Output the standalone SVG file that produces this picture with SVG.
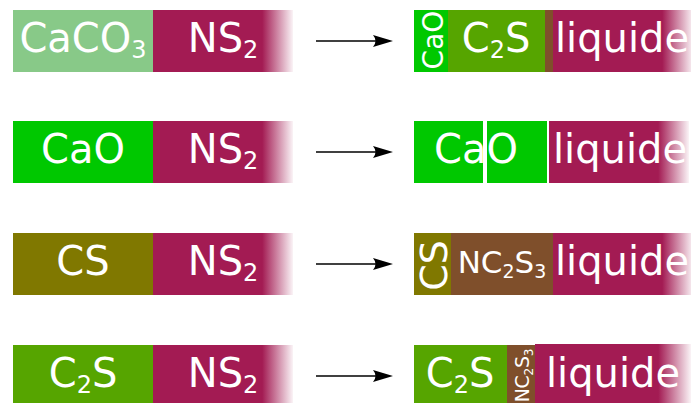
<svg xmlns="http://www.w3.org/2000/svg" width="691" height="403" viewBox="0 0 691 403">
<defs>
<linearGradient id="fadeL" x1="0" y1="0" x2="1" y2="0">
<stop offset="0" stop-color="#a31b53"/>
<stop offset="0.78" stop-color="#a31b53"/>
<stop offset="1" stop-color="#a31b53" stop-opacity="0.05"/>
</linearGradient>
<linearGradient id="fadeR4" x1="0" y1="0" x2="1" y2="0">
<stop offset="0" stop-color="#a31b53"/>
<stop offset="0.79" stop-color="#a31b53"/>
<stop offset="1" stop-color="#a31b53" stop-opacity="0.05"/>
</linearGradient>
<marker id="ah" viewBox="-8 -7 22 14" markerWidth="22" markerHeight="14" refX="0" refY="0" orient="auto" markerUnits="userSpaceOnUse">
<path d="M13,0 L-7,-6 Q-2,0 -7,6 Z" fill="#000"/>
</marker>
<style>
text{font-family:"DejaVu Sans","Liberation Sans",sans-serif;fill:#fff;text-anchor:middle}
.t{font-size:40px}
.s{font-size:24px}
.lg{fill:#88c988}
.mg{fill:url(#fadeL)}
.bg{fill:#00c800}
.c2{fill:#56a500}
.ol{fill:#807800}
.br{fill:#7f4f2b}
.ar{stroke:#000;stroke-width:1.5;fill:none;marker-end:url(#ah)}
</style>
</defs>
<g id="r1-left">
<rect class="lg" x="13" y="10" width="140" height="62"/>
<rect class="mg" x="153" y="10" width="140" height="62"/>
<text class="t" x="83" y="51.5">CaCO<tspan class="s" dy="6">3</tspan></text>
<text class="t" x="223" y="51.5">NS<tspan class="s" dy="6">2</tspan></text>
</g>
<g id="r1-right">
<rect class="bg" x="414" y="10" width="34" height="62"/>
<rect class="c2" x="448" y="10" width="97" height="62"/>
<rect class="br" x="545" y="10" width="8" height="62"/>
<rect class="mg" x="553" y="10" width="140" height="62"/>
<text transform="translate(443,40) rotate(-90)" style="font-size:28px">CaO</text>
<text class="t" x="496" y="51.5">C<tspan class="s" dy="6">2</tspan><tspan dy="-6">S</tspan></text>
<text class="t" x="622" y="51.5">liquide</text>
</g>
<g id="r2-left">
<rect class="bg" x="13" y="121" width="140" height="62"/>
<rect class="mg" x="153" y="121" width="140" height="62"/>
<text class="t" x="83" y="163">CaO</text>
<text class="t" x="223" y="163">NS<tspan class="s" dy="6">2</tspan></text>
</g>
<g id="r2-right">
<rect class="bg" x="414" y="121" width="69" height="62"/>
<rect class="bg" x="487" y="121" width="60" height="62"/>
<rect class="mg" x="549" y="121" width="140" height="62"/>
<text class="t" x="476" y="163">CaO</text>
<text class="t" x="620" y="163">liquide</text>
</g>
<g id="r3-left">
<rect class="ol" x="13" y="233" width="140" height="62"/>
<rect class="mg" x="153" y="233" width="140" height="62"/>
<text class="t" x="83" y="275">CS</text>
<text class="t" x="223" y="275">NS<tspan class="s" dy="6">2</tspan></text>
</g>
<g id="r3-right">
<rect class="ol" x="414" y="233" width="37" height="62"/>
<rect class="br" x="451" y="233" width="102" height="62"/>
<rect class="mg" x="553" y="233" width="140" height="62"/>
<text transform="translate(447,265.5) rotate(-90)" style="font-size:38px">CS</text>
<text x="502" y="273" style="font-size:31px">NC<tspan dy="5" style="font-size:19px">2</tspan><tspan dy="-5">S</tspan><tspan dy="5" style="font-size:19px">3</tspan></text>
<text class="t" x="622" y="275">liquide</text>
</g>
<g id="r4-left">
<rect class="c2" x="13" y="345" width="140" height="62"/>
<rect class="mg" x="153" y="345" width="140" height="62"/>
<text class="t" x="83" y="387">C<tspan class="s" dy="6">2</tspan><tspan dy="-6">S</tspan></text>
<text class="t" x="223" y="387">NS<tspan class="s" dy="6">2</tspan></text>
</g>
<g id="r4-right">
<rect class="c2" x="414" y="345" width="93" height="62"/>
<rect class="br" x="507" y="345" width="28" height="62"/>
<rect x="535" y="344" width="156" height="63" fill="url(#fadeR4)"/>
<text class="t" x="460" y="387">C<tspan class="s" dy="6">2</tspan><tspan dy="-6">S</tspan></text>
<text transform="translate(529,349) rotate(-90)" style="font-size:19px;text-anchor:end;letter-spacing:-0.3px">NC<tspan dy="4" style="font-size:12px">2</tspan><tspan dy="-4">S</tspan><tspan dy="4" style="font-size:12px">3</tspan></text>
<text class="t" x="613" y="387">liquide</text>
</g>
<g id="connectors">
<line class="ar" x1="316" y1="41" x2="380" y2="41"/>
<line class="ar" x1="316" y1="152" x2="380" y2="152"/>
<line class="ar" x1="316" y1="264" x2="380" y2="264"/>
<line class="ar" x1="316" y1="376" x2="380" y2="376"/>
</g>
</svg>
